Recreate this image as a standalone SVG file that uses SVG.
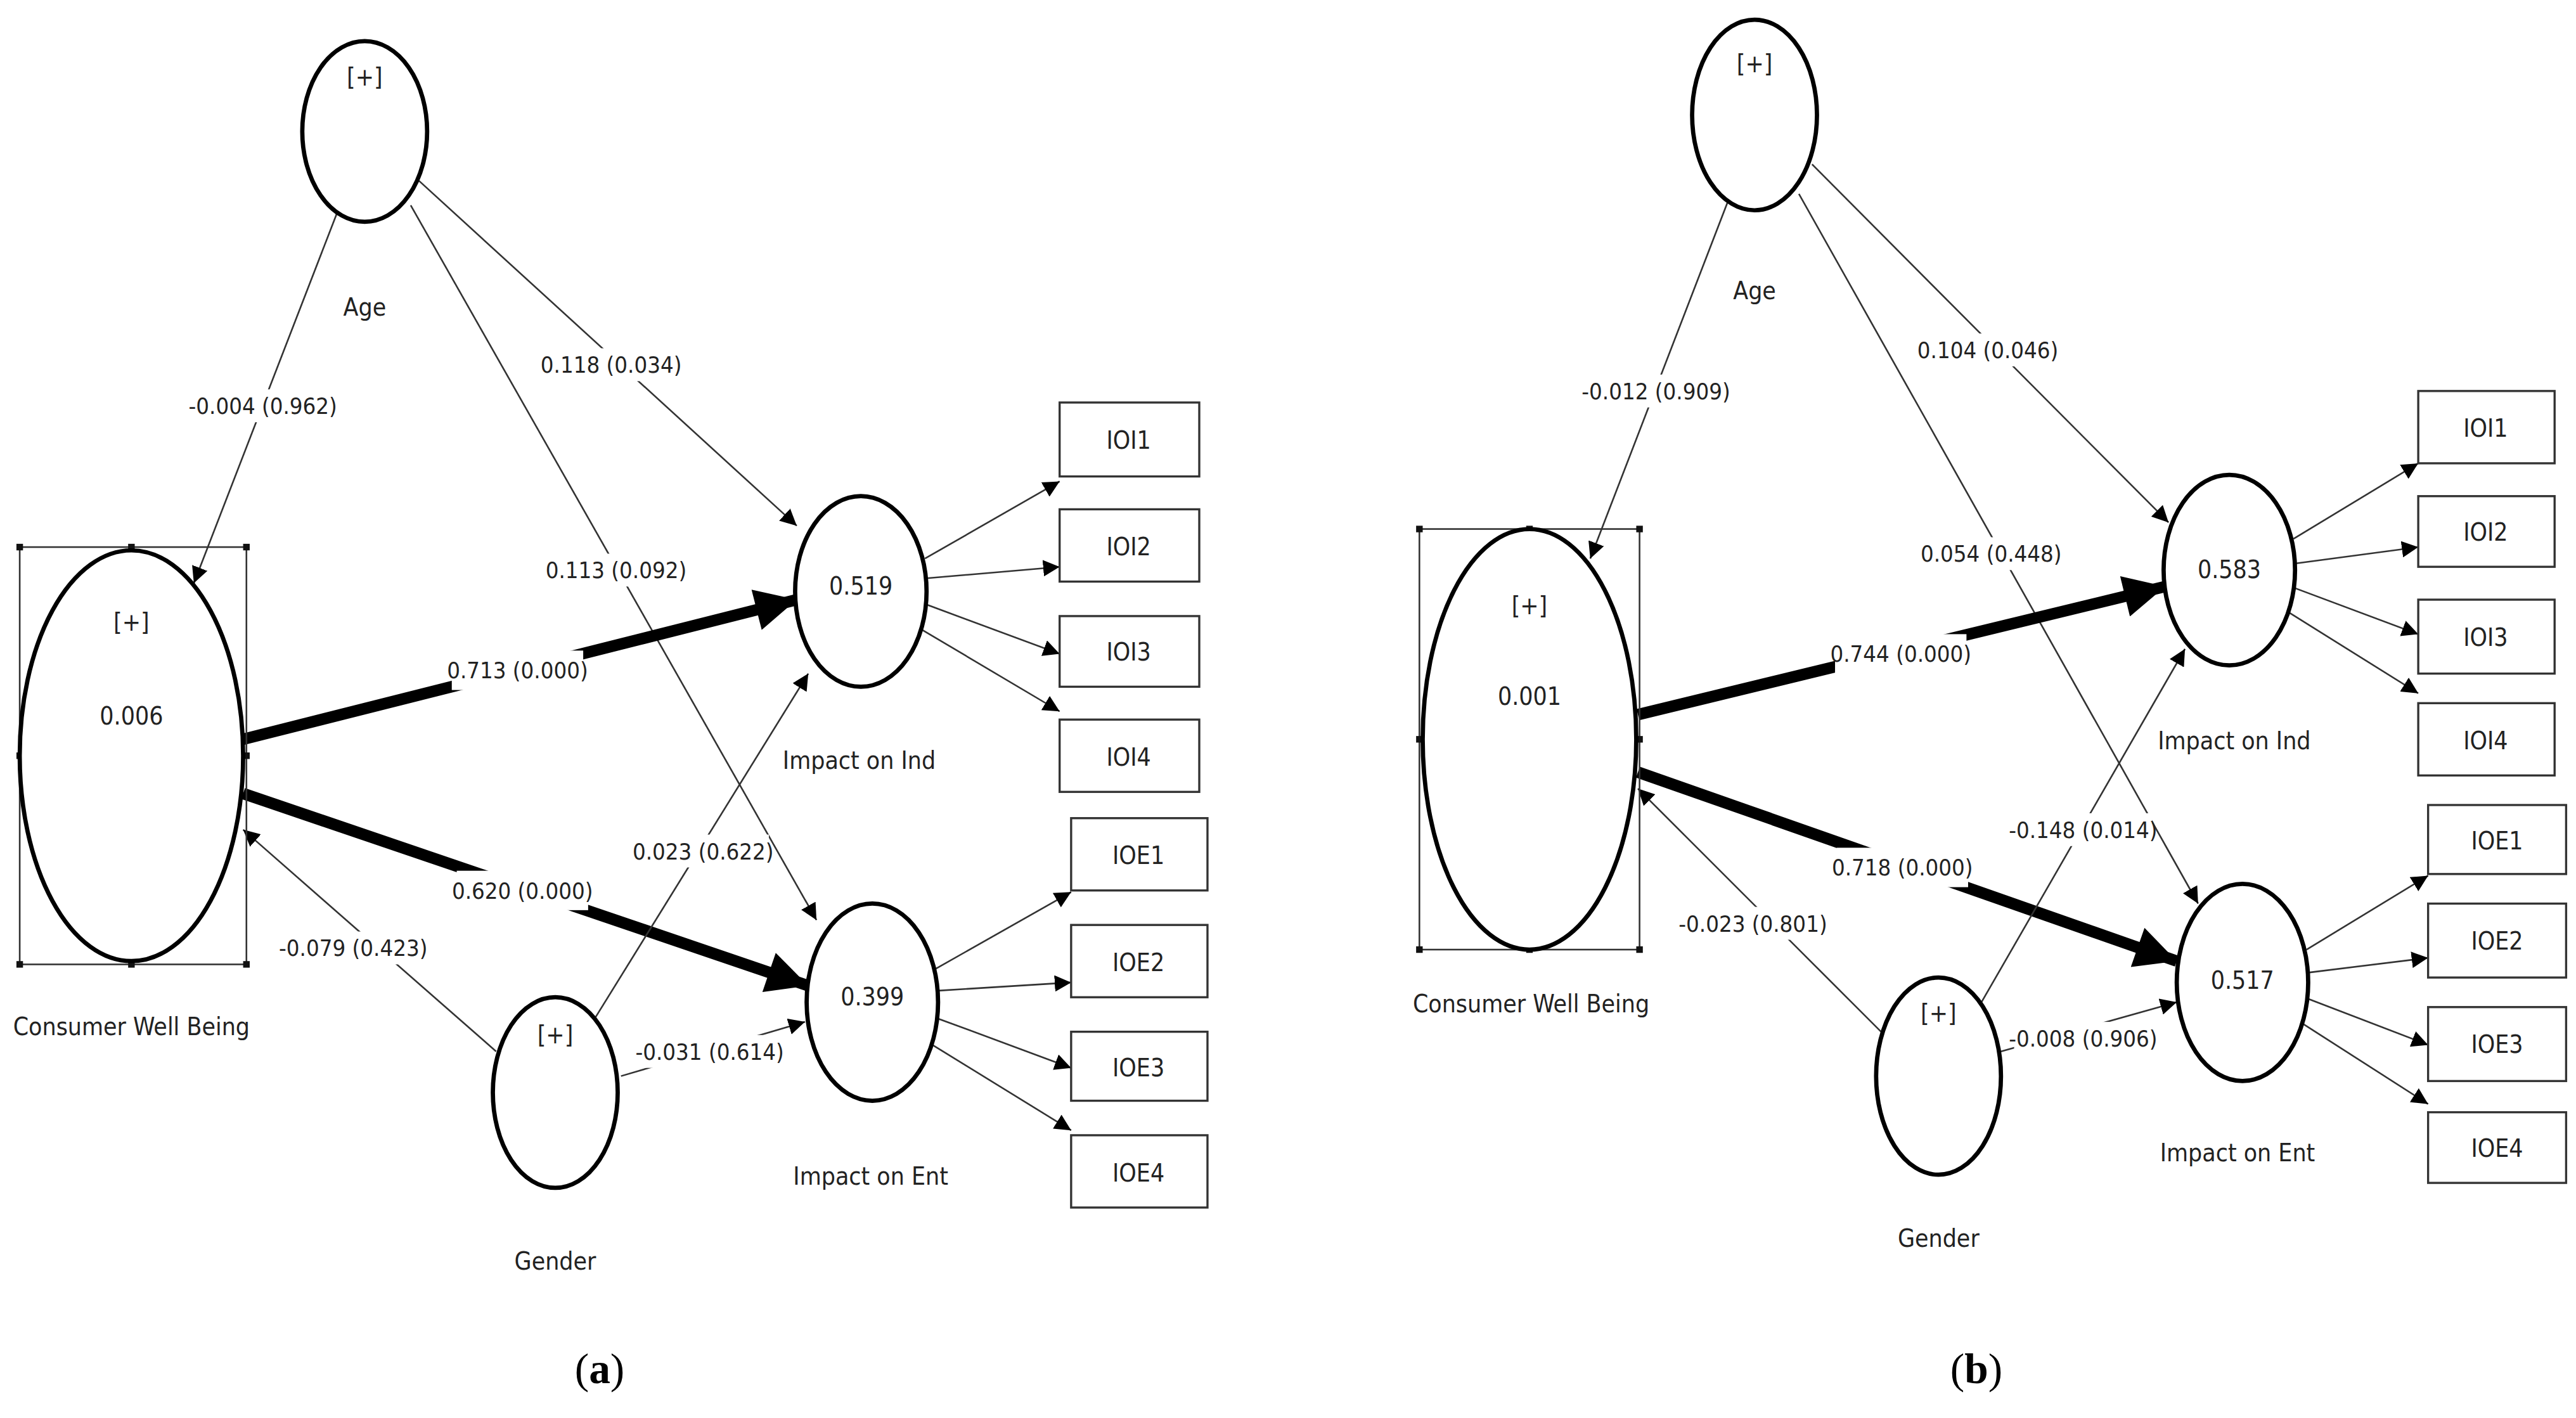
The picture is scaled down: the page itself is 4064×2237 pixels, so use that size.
<svg xmlns="http://www.w3.org/2000/svg" width="4064" height="2237" viewBox="0 0 4064 2237">
<defs>
<marker id="a" viewBox="0 0 10 10" refX="10" refY="5" markerWidth="10" markerHeight="10" markerUnits="userSpaceOnUse" orient="auto"><path d="M0,0 L10,5 L0,10 z" fill="#000"/></marker>
<marker id="A" viewBox="0 0 10 10" refX="10" refY="5" markerWidth="4" markerHeight="3.6" orient="auto"><path d="M0,0 L10,5 L0,10 z" fill="#000"/></marker>
<style>
text{font-family:"Liberation Sans Narrow","DejaVu Sans Condensed","Liberation Sans",sans-serif;font-size:15px;fill:#222;text-anchor:middle;font-stretch:condensed}
.lb{font-size:14px}
.bg{fill:#fff}
.n{fill:#fff;stroke:#000;stroke-width:2.6}
.b{fill:#fff;stroke:#333;stroke-width:1.3}
.t{stroke:#333;stroke-width:1;fill:none;marker-end:url(#a)}
.k{stroke:#000;stroke-width:7;fill:none;marker-end:url(#A)}
.s{fill:none;stroke:#333;stroke-width:1}
.h{fill:#111}
.cap{font-family:"Liberation Serif",serif;font-size:26px;fill:#000;font-stretch:normal}
</style>
</defs>
<rect width="4064" height="2237" fill="#fff"/>
<g transform="scale(2.5918)">
<!-- panel a -->
<g id="connectors-a">
<line class="t" x1="205" y1="130" x2="118" y2="355"/>
<line class="t" x1="255" y1="110" x2="485" y2="320"/>
<line class="t" x1="250" y1="125" x2="497" y2="560"/>
<line class="k" x1="148" y1="450" x2="485" y2="365"/>
<line class="k" x1="148" y1="483" x2="492" y2="600"/>
<line class="t" x1="302" y1="640" x2="148" y2="505"/>
<line class="t" x1="362" y1="620" x2="492" y2="410"/>
<line class="t" x1="378" y1="655" x2="490" y2="622"/>
<line class="t" x1="563" y1="340" x2="645" y2="293"/>
<line class="t" x1="564" y1="352" x2="645" y2="345"/>
<line class="t" x1="564" y1="368" x2="645" y2="398"/>
<line class="t" x1="559" y1="382" x2="645" y2="433"/>
<line class="t" x1="569" y1="590" x2="652" y2="543"/>
<line class="t" x1="571" y1="603" x2="652" y2="598"/>
<line class="t" x1="571" y1="620" x2="652" y2="650"/>
<line class="t" x1="566" y1="635" x2="652" y2="688"/>
<rect class="bg" x="118" y="237" width="84" height="20"/><text class="lb" x="160" y="252">-0.004 (0.962)</text>
<rect class="bg" x="332" y="212" width="80" height="20"/><text class="lb" x="372" y="227">0.118 (0.034)</text>
<rect class="bg" x="335" y="337" width="80" height="20"/><text class="lb" x="375" y="352">0.113 (0.092)</text>
<rect class="bg" x="275" y="396" width="80" height="24"/><text class="lb" x="315" y="413">0.713 (0.000)</text>
<rect class="bg" x="278" y="530" width="80" height="24"/><text class="lb" x="318" y="547">0.620 (0.000)</text>
<rect class="bg" x="173" y="567" width="84" height="20"/><text class="lb" x="215" y="582">-0.079 (0.423)</text>
<rect class="bg" x="388" y="508" width="80" height="20"/><text class="lb" x="428" y="523">0.023 (0.622)</text>
<rect class="bg" x="390" y="630" width="84" height="20"/><text class="lb" x="432" y="645">-0.031 (0.614)</text>
</g>
<g id="age-a"><ellipse class="n" cx="222" cy="80" rx="38" ry="55"/><text x="222" y="52">[+]</text><text x="222" y="192">Age</text></g>
<g id="cwb-a"><rect class="s" x="12" y="333" width="138" height="254"/>
<rect class="h" x="10" y="331" width="4" height="4"/><rect class="h" x="78" y="331" width="4" height="4"/><rect class="h" x="148" y="331" width="4" height="4"/><rect class="h" x="10" y="458" width="4" height="4"/><rect class="h" x="148" y="458" width="4" height="4"/><rect class="h" x="10" y="585" width="4" height="4"/><rect class="h" x="78" y="585" width="4" height="4"/><rect class="h" x="148" y="585" width="4" height="4"/>
<ellipse class="n" cx="80" cy="460" rx="68" ry="125"/><text x="80" y="384">[+]</text><text x="80" y="441">0.006</text><text x="80" y="630">Consumer Well Being</text></g>
<g id="gender-a"><ellipse class="n" cx="338" cy="665" rx="38" ry="58"/><text x="338" y="635">[+]</text><text x="338" y="773">Gender</text></g>
<g id="ind-a"><ellipse class="n" cx="524" cy="360" rx="40" ry="58"/><text x="524" y="362">0.519</text><text x="523" y="468">Impact on Ind</text></g>
<g id="ent-a"><ellipse class="n" cx="531" cy="610" rx="40" ry="60"/><text x="531" y="612">0.399</text><text x="530" y="721">Impact on Ent</text></g>
<g id="ioi-a">
<rect class="b" x="645" y="245" width="85" height="45"/><text x="687" y="273">IOI1</text>
<rect class="b" x="645" y="310" width="85" height="44"/><text x="687" y="338">IOI2</text>
<rect class="b" x="645" y="375" width="85" height="43"/><text x="687" y="402">IOI3</text>
<rect class="b" x="645" y="438" width="85" height="44"/><text x="687" y="466">IOI4</text>
</g>
<g id="ioe-a">
<rect class="b" x="652" y="498" width="83" height="44"/><text x="693" y="526">IOE1</text>
<rect class="b" x="652" y="563" width="83" height="44"/><text x="693" y="591">IOE2</text>
<rect class="b" x="652" y="628" width="83" height="42"/><text x="693" y="655">IOE3</text>
<rect class="b" x="652" y="691" width="83" height="44"/><text x="693" y="719">IOE4</text>
</g>
<text class="cap" x="365" y="842">(<tspan font-weight="bold">a</tspan>)</text>
<!-- panel b -->
<g id="connectors-b">
<line class="t" x1="1052" y1="122" x2="968" y2="340"/>
<line class="t" x1="1103" y1="100" x2="1320" y2="318"/>
<line class="t" x1="1095" y1="118" x2="1338" y2="550"/>
<line class="k" x1="997" y1="435" x2="1318" y2="357"/>
<line class="k" x1="997" y1="470" x2="1325" y2="585"/>
<line class="t" x1="1145" y1="628" x2="997" y2="480"/>
<line class="t" x1="1205" y1="612" x2="1330" y2="395"/>
<line class="t" x1="1218" y1="640" x2="1325" y2="610"/>
<line class="t" x1="1396" y1="328" x2="1472" y2="282"/>
<line class="t" x1="1397" y1="343" x2="1472" y2="333"/>
<line class="t" x1="1397" y1="358" x2="1472" y2="386"/>
<line class="t" x1="1392" y1="372" x2="1472" y2="422"/>
<line class="t" x1="1404" y1="578" x2="1478" y2="533"/>
<line class="t" x1="1405" y1="592" x2="1478" y2="583"/>
<line class="t" x1="1405" y1="608" x2="1478" y2="636"/>
<line class="t" x1="1400" y1="622" x2="1478" y2="672"/>
<rect class="bg" x="966" y="228" width="84" height="20"/><text class="lb" x="1008" y="243">-0.012 (0.909)</text>
<rect class="bg" x="1170" y="203" width="80" height="20"/><text class="lb" x="1210" y="218">0.104 (0.046)</text>
<rect class="bg" x="1172" y="327" width="80" height="20"/><text class="lb" x="1212" y="342">0.054 (0.448)</text>
<rect class="bg" x="1117" y="386" width="80" height="24"/><text class="lb" x="1157" y="403">0.744 (0.000)</text>
<rect class="bg" x="1118" y="516" width="80" height="24"/><text class="lb" x="1158" y="533">0.718 (0.000)</text>
<rect class="bg" x="1025" y="552" width="84" height="20"/><text class="lb" x="1067" y="567">-0.023 (0.801)</text>
<rect class="bg" x="1226" y="495" width="84" height="20"/><text class="lb" x="1268" y="510">-0.148 (0.014)</text>
<rect class="bg" x="1226" y="622" width="84" height="20"/><text class="lb" x="1268" y="637">-0.008 (0.906)</text>
</g>
<g id="age-b"><ellipse class="n" cx="1068" cy="70" rx="38" ry="58"/><text x="1068" y="44">[+]</text><text x="1068" y="182">Age</text></g>
<g id="cwb-b"><rect class="s" x="864" y="322" width="134" height="256"/>
<rect class="h" x="862" y="320" width="4" height="4"/><rect class="h" x="929" y="320" width="4" height="4"/><rect class="h" x="996" y="320" width="4" height="4"/><rect class="h" x="862" y="448" width="4" height="4"/><rect class="h" x="996" y="448" width="4" height="4"/><rect class="h" x="862" y="576" width="4" height="4"/><rect class="h" x="929" y="576" width="4" height="4"/><rect class="h" x="996" y="576" width="4" height="4"/>
<ellipse class="n" cx="931" cy="450" rx="65" ry="128"/><text x="931" y="374">[+]</text><text x="931" y="429">0.001</text><text x="932" y="616">Consumer Well Being</text></g>
<g id="gender-b"><ellipse class="n" cx="1180" cy="655" rx="38" ry="60"/><text x="1180" y="622">[+]</text><text x="1180" y="759">Gender</text></g>
<g id="ind-b"><ellipse class="n" cx="1357" cy="347" rx="40" ry="58"/><text x="1357" y="352">0.583</text><text x="1360" y="456">Impact on Ind</text></g>
<g id="ent-b"><ellipse class="n" cx="1365" cy="598" rx="40" ry="60"/><text x="1365" y="602">0.517</text><text x="1362" y="707">Impact on Ent</text></g>
<g id="ioi-b">
<rect class="b" x="1472" y="238" width="83" height="44"/><text x="1513" y="266">IOI1</text>
<rect class="b" x="1472" y="302" width="83" height="43"/><text x="1513" y="329">IOI2</text>
<rect class="b" x="1472" y="365" width="83" height="45"/><text x="1513" y="393">IOI3</text>
<rect class="b" x="1472" y="428" width="83" height="44"/><text x="1513" y="456">IOI4</text>
</g>
<g id="ioe-b">
<rect class="b" x="1478" y="490" width="84" height="42"/><text x="1520" y="517">IOE1</text>
<rect class="b" x="1478" y="550" width="84" height="45"/><text x="1520" y="578">IOE2</text>
<rect class="b" x="1478" y="613" width="84" height="45"/><text x="1520" y="641">IOE3</text>
<rect class="b" x="1478" y="677" width="84" height="43"/><text x="1520" y="704">IOE4</text>
</g>
<text class="cap" x="1203" y="842">(<tspan font-weight="bold">b</tspan>)</text>
</g>
</svg>
